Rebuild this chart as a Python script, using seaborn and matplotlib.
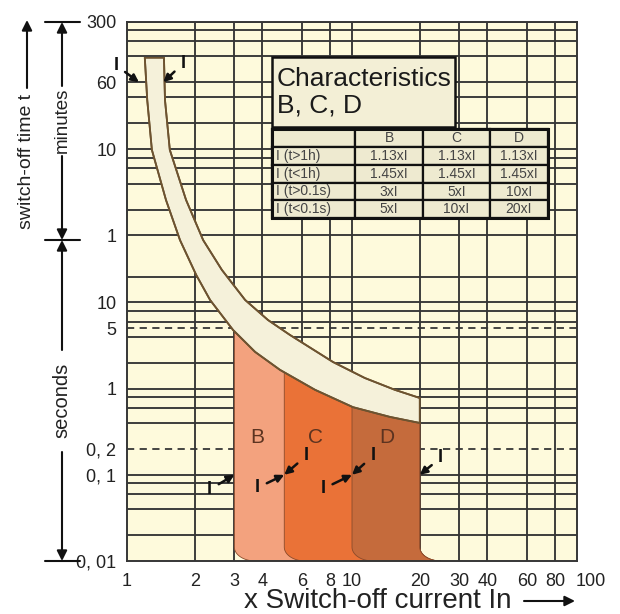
import numpy as np
import pandas as pd
import matplotlib
matplotlib.use("Agg")
import matplotlib.pyplot as plt
import seaborn as sns
from matplotlib.patches import Rectangle, FancyArrowPatch
from matplotlib.transforms import ScaledTranslation
from matplotlib.ticker import NullLocator

# ---------------- data (x = multiple of In, s = seconds) ----------------
band_lower_x = [1.20, 1.23, 1.29, 1.49, 1.72, 2.03, 2.34, 2.96, 3.71, 4.79, 6.85, 10.1, 14.75, 20.0]
band_lower_s = [6900, 2240, 590, 155, 53, 20.9, 10.7, 4.8, 2.67, 1.65, 0.97, 0.61, 0.47, 0.40]
band_upper_x = [1.46, 1.475, 1.55, 1.83, 2.18, 2.64, 3.35, 4.23, 5.30, 8.23, 11.4, 15.5, 20.0]
band_upper_s = [6900, 2240, 590, 155, 53, 23.9, 10.7, 6.27, 4.2, 2.04, 1.33, 0.97, 0.78]

region_names = ["B", "C", "D"]
region_left = [3, 5, 10]
region_right = 20
region_colors = ["#F3A27E", "#EA7237", "#C56B3C"]
region_label_x = [3.8, 6.85, 14.3]
region_label_s = [0.27, 0.27, 0.27]

trip_x = [3, 5, 5, 10, 10, 20, 1.13, 1.45]
trip_s = [0.1, 0.1, 0.1, 0.1, 0.1, 0.1, 3600, 3600]

x_ticks = [1, 2, 3, 4, 6, 8, 10, 20, 30, 40, 60, 80, 100]
y_tick_s = [18000, 3600, 600, 60, 10, 5, 1, 0.2, 0.1, 0.01]
y_tick_labels = ["300", "60", "10", "1", "10", "5", "1", "0, 2", "0, 1", "0, 01"]
grid_minutes = [300, 240, 180, 120, 60, 40, 20, 10, 8, 6, 4, 2, 1]
grid_seconds = [20, 10, 8, 6, 4, 2, 1, 0.8, 0.6, 0.4, 0.1, 0.08, 0.06, 0.04, 0.02]
dashed_seconds = [5, 0.2]

table_title = ["Characteristics", "B, C, D"]
table_cols = ["B", "C", "D"]
table_rows = ["I (t>1h)", "I (t<1h)", "I (t>0.1s)", "I (t<0.1s)"]
table_vals = [["1.13xI", "1.13xI", "1.13xI"],
              ["1.45xI", "1.45xI", "1.45xI"],
              ["3xI", "5xI", "10xI"],
              ["5xI", "10xI", "20xI"]]

# ---------------- style ----------------
sns.set_theme(style="white")
plt.rcParams["font.family"] = ["Liberation Sans", "DejaVu Sans"]

BG = "#FEFADC"
GRID = "#363636"
BAND = "#F5F1DA"
BAND_EDGE = "#6d5330"
TXT = "#222222"

W, H = 620, 614
fig = plt.figure(figsize=(W / 100, H / 100), dpi=100)
AX_L, AX_R, AX_T, AX_B = 127, 577, 22, 561
ax = fig.add_axes([AX_L / W, (H - AX_B) / H, (AX_R - AX_L) / W, (AX_B - AX_T) / H])
ax.set_xscale("log")
ax.set_yscale("log")
ax.set_xlim(1, 100)
ax.set_ylim(0.01, 18000)
ax.set_facecolor(BG)


def axfrac(px, py):
    return (px - AX_L) / (AX_R - AX_L), (AX_B - py) / (AX_B - AX_T)


# grid
grid_all = [m * 60 for m in grid_minutes] + grid_seconds
ax.hlines(grid_all, 1, 100, colors=GRID, lw=1.35, zorder=1)
ax.hlines(dashed_seconds, 1, 100, colors=GRID, lw=1.3, linestyles=(0, (4, 3)), zorder=1)
ax.vlines(x_ticks[1:-1], 0.01, 18000, colors=GRID, lw=1.35, zorder=1)

# ---------------- regions ----------------
lx_low = np.log10(band_lower_x)
ls_low = np.log10(band_lower_s)
a_ft = np.log10(1.24)
b_ft = np.log10(1.45)
theta = np.linspace(np.pi, 1.5 * np.pi, 20)


def foot(x0):
    cx = np.log10(x0) + a_ft
    cy = -2 + b_ft
    return cx + a_ft * np.cos(theta), cy + b_ft * np.sin(theta)


for name, x0, col in zip(region_names, region_left, region_colors):
    top0 = np.interp(np.log10(x0), lx_low, ls_low)
    fx, fy = foot(x0)
    rx, ry = foot(region_right)
    mask = (lx_low > np.log10(x0)) & (lx_low <= np.log10(region_right))
    px = np.concatenate([[np.log10(x0)], fx, rx[::-1], lx_low[mask][::-1]])
    py = np.concatenate([[top0], fy, ry[::-1], ls_low[mask][::-1]])
    ax.fill(10 ** px, 10 ** py, facecolor=col, edgecolor="#8a4a2a", lw=0.6, zorder=2)

for name, x, s in zip(region_names, region_label_x, region_label_s):
    ax.text(x, s, name, fontsize=15, color="#5c3320", ha="center", va="center", zorder=4)

# ---------------- band ----------------
bx = list(band_lower_x) + list(band_upper_x[::-1])
by = list(band_lower_s) + list(band_upper_s[::-1])
ax.fill(bx, by, facecolor=BAND, edgecolor=BAND_EDGE, lw=1.3, zorder=3)
sns.lineplot(x=band_lower_x, y=band_lower_s, sort=False, estimator=None, color=BAND_EDGE, lw=1.3, ax=ax, zorder=3.2)
sns.lineplot(x=band_upper_x, y=band_upper_s, sort=False, estimator=None, color=BAND_EDGE, lw=1.3, ax=ax, zorder=3.2)

# ---------------- trip arrows ----------------
offsets_px = [(-25, -15), (-27, -13), (22, 19), (-29, -14), (21, 19), (21, 17), (-23, 17), (20, 19)]
for x, s, (dx, dy) in zip(trip_x, trip_s, offsets_px):
    ax.annotate("I", xy=(x, s), xytext=(dx * 0.72, dy * 0.72), textcoords="offset points",
                fontsize=13, fontweight="bold", color="#111", ha="center", va="center",
                arrowprops=dict(arrowstyle="-|>", color="#111", lw=1.8, mutation_scale=11,
                                shrinkA=3, shrinkB=0), zorder=6)

# ---------------- ticks ----------------
ax.set_xticks(x_ticks)
ax.set_xticklabels([str(v) for v in x_ticks])
ax.set_yticks(y_tick_s)
ax.set_yticklabels(y_tick_labels)
ax.xaxis.set_minor_locator(NullLocator())
ax.yaxis.set_minor_locator(NullLocator())
ax.tick_params(axis="x", length=4, width=1, color=GRID, labelsize=13, labelcolor=TXT, pad=4.3)
ax.tick_params(axis="y", length=4, width=1, color=GRID, labelsize=13, labelcolor=TXT, pad=3.6)
last = ax.get_xticklabels()[-1]
last.set_transform(last.get_transform() + ScaledTranslation(0.14, 0, fig.dpi_scale_trans))
for sp in ax.spines.values():
    sp.set_color(GRID)
    sp.set_linewidth(1.4)

# ---------------- table ----------------
tx0, ty0 = axfrac(272, 127)
tx1, ty1 = axfrac(455, 57)
ax.add_patch(Rectangle((tx0, ty0), tx1 - tx0, ty1 - ty0, transform=ax.transAxes,
                       facecolor="#F3EFD6", edgecolor="#111", lw=1.8, zorder=5))
for line, py in zip(table_title, [79, 106]):
    xx, yy = axfrac(277, py)
    ax.text(xx, yy, line, transform=ax.transAxes, fontsize=19, color="#1a1a1a",
            ha="left", va="center", zorder=6)

col_px = [272, 355, 423, 490, 548]
row_px = [129, 147, 165, 183, 200, 218]
cells = [[""] + table_cols] + [[r] + v for r, v in zip(table_rows, table_vals)]
for i, row in enumerate(cells):
    for j, txt in enumerate(row):
        x0, y0 = axfrac(col_px[j], row_px[i + 1])
        x1, y1 = axfrac(col_px[j + 1], row_px[i])
        ax.add_patch(Rectangle((x0, y0), x1 - x0, y1 - y0, transform=ax.transAxes,
                               facecolor="#EEEAD0", edgecolor="#111", lw=1.6, zorder=5))
        if j == 0:
            xx, _ = axfrac(col_px[0] + 4, 0)
            ha = "left"
        else:
            xx = (x0 + x1) / 2
            ha = "center"
        ax.text(xx, (y0 + y1) / 2, txt, transform=ax.transAxes, fontsize=10, color="#444",
                ha=ha, va="center", zorder=6)
ax.add_patch(Rectangle(axfrac(col_px[0], row_px[-1]),
                       (col_px[-1] - col_px[0]) / (AX_R - AX_L),
                       (row_px[-1] - row_px[0]) / (AX_B - AX_T), transform=ax.transAxes,
                       facecolor="none", edgecolor="#111", lw=2.2, zorder=5.5))

# ---------------- outside annotations ----------------
def F(px, py):
    return (px / W, 1 - py / H)


def arrow(p0, p1, head=True):
    fig.add_artist(FancyArrowPatch(F(*p0), F(*p1), transform=fig.transFigure,
                                   arrowstyle="-|>" if head else "-", mutation_scale=15,
                                   color="#111", lw=1.5, shrinkA=0, shrinkB=0))


fig.text(*F(27, 161), "switch-off time t", rotation=90, fontsize=14, color=TXT, ha="center", va="center")
arrow((27, 88), (27, 20))
fig.text(*F(62, 120), "minutes", rotation=90, fontsize=13.5, color=TXT, ha="center", va="center")
arrow((62, 86), (62, 22))
arrow((62, 156), (62, 240))
fig.text(*F(62, 400), "seconds", rotation=90, fontsize=14.5, color=TXT, ha="center", va="center")
arrow((62, 350), (62, 240))
arrow((62, 452), (62, 561))
for yy in [22, 240, 561]:
    arrow((45, yy), (80, yy), head=False)

fig.text(*F(378, 608), "x Switch-off current In", fontsize=20, color=TXT, ha="center", va="baseline")
arrow((524, 601), (575, 601))

fig.savefig("out.png", dpi=100, facecolor="white")
